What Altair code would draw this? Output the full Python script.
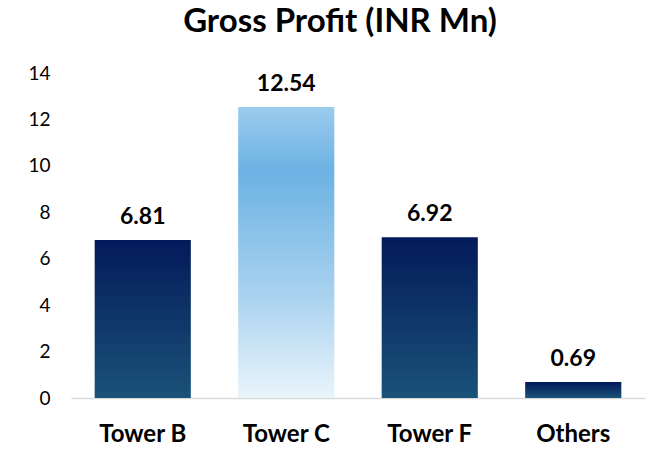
import altair as alt
import pandas as pd

categories = ["Tower B", "Tower C", "Tower F", "Others"]
values = [6.81, 12.54, 6.92, 0.69]
styles = ["dark", "light", "dark", "dark"]
y_ticks = [0, 2, 4, 6, 8, 10, 12, 14]

df = pd.DataFrame({"cat": categories, "val": values, "style": styles})
df["label"] = df["val"].map(lambda v: f"{v:.2f}")

FONT = "Lato"

dark_grad = alt.Gradient(
    gradient="linear", x1=0, x2=0, y1=0, y2=1,
    stops=[alt.GradientStop(color="#031a5a", offset=0),
           alt.GradientStop(color="#1a5278", offset=1)],
)
light_grad = alt.Gradient(
    gradient="linear", x1=0, x2=0, y1=0, y2=1,
    stops=[alt.GradientStop(color="#9ccbee", offset=0),
           alt.GradientStop(color="#6cb2e3", offset=0.22),
           alt.GradientStop(color="#a9d2ef", offset=0.65),
           alt.GradientStop(color="#eaf4fb", offset=1)],
)

x = alt.X("cat:N", sort=categories, title=None,
          scale=alt.Scale(paddingInner=0.33, paddingOuter=0.165),
          axis=alt.Axis(labelAngle=0, labelFont=FONT, labelFontSize=24,
                        labelFontWeight="bold", labelColor="#000000",
                        labelPadding=24, ticks=False, domainColor="#d9d9d9",
                        domainWidth=1.5))
y = alt.Y("val:Q", title=None,
          scale=alt.Scale(domain=[0, 14]),
          axis=alt.Axis(values=y_ticks, grid=False, domain=False, ticks=False,
                        labelFont=FONT, labelFontSize=19, labelColor="#000000",
                        labelPadding=21))

base = alt.Chart(df)

dark = base.transform_filter(alt.datum.style == "dark").mark_bar(color=dark_grad).encode(x=x, y=y)
light = base.transform_filter(alt.datum.style == "light").mark_bar(color=light_grad).encode(x=x, y=y)
text = base.mark_text(baseline="bottom", dy=-11, font=FONT, fontSize=23,
                      fontWeight="bold", color="#000000").encode(
    x=alt.X("cat:N", sort=categories), y="val:Q", text="label:N")

chart = alt.layer(dark, light, text).properties(
    width=574, height=325,
    title=alt.TitleParams("Gross Profit (INR Mn)", font=FONT, fontSize=33,
                          fontWeight="bold", color="#000000", anchor="middle",
                          dx=-18, offset=25),
    autosize=alt.AutoSizeParams(type="none"),
    padding={"left": 71, "top": 73, "right": 4, "bottom": 51},
).configure_view(stroke=None)

chart.save("out.html", embed_options={"renderer": "svg", "actions": False})
